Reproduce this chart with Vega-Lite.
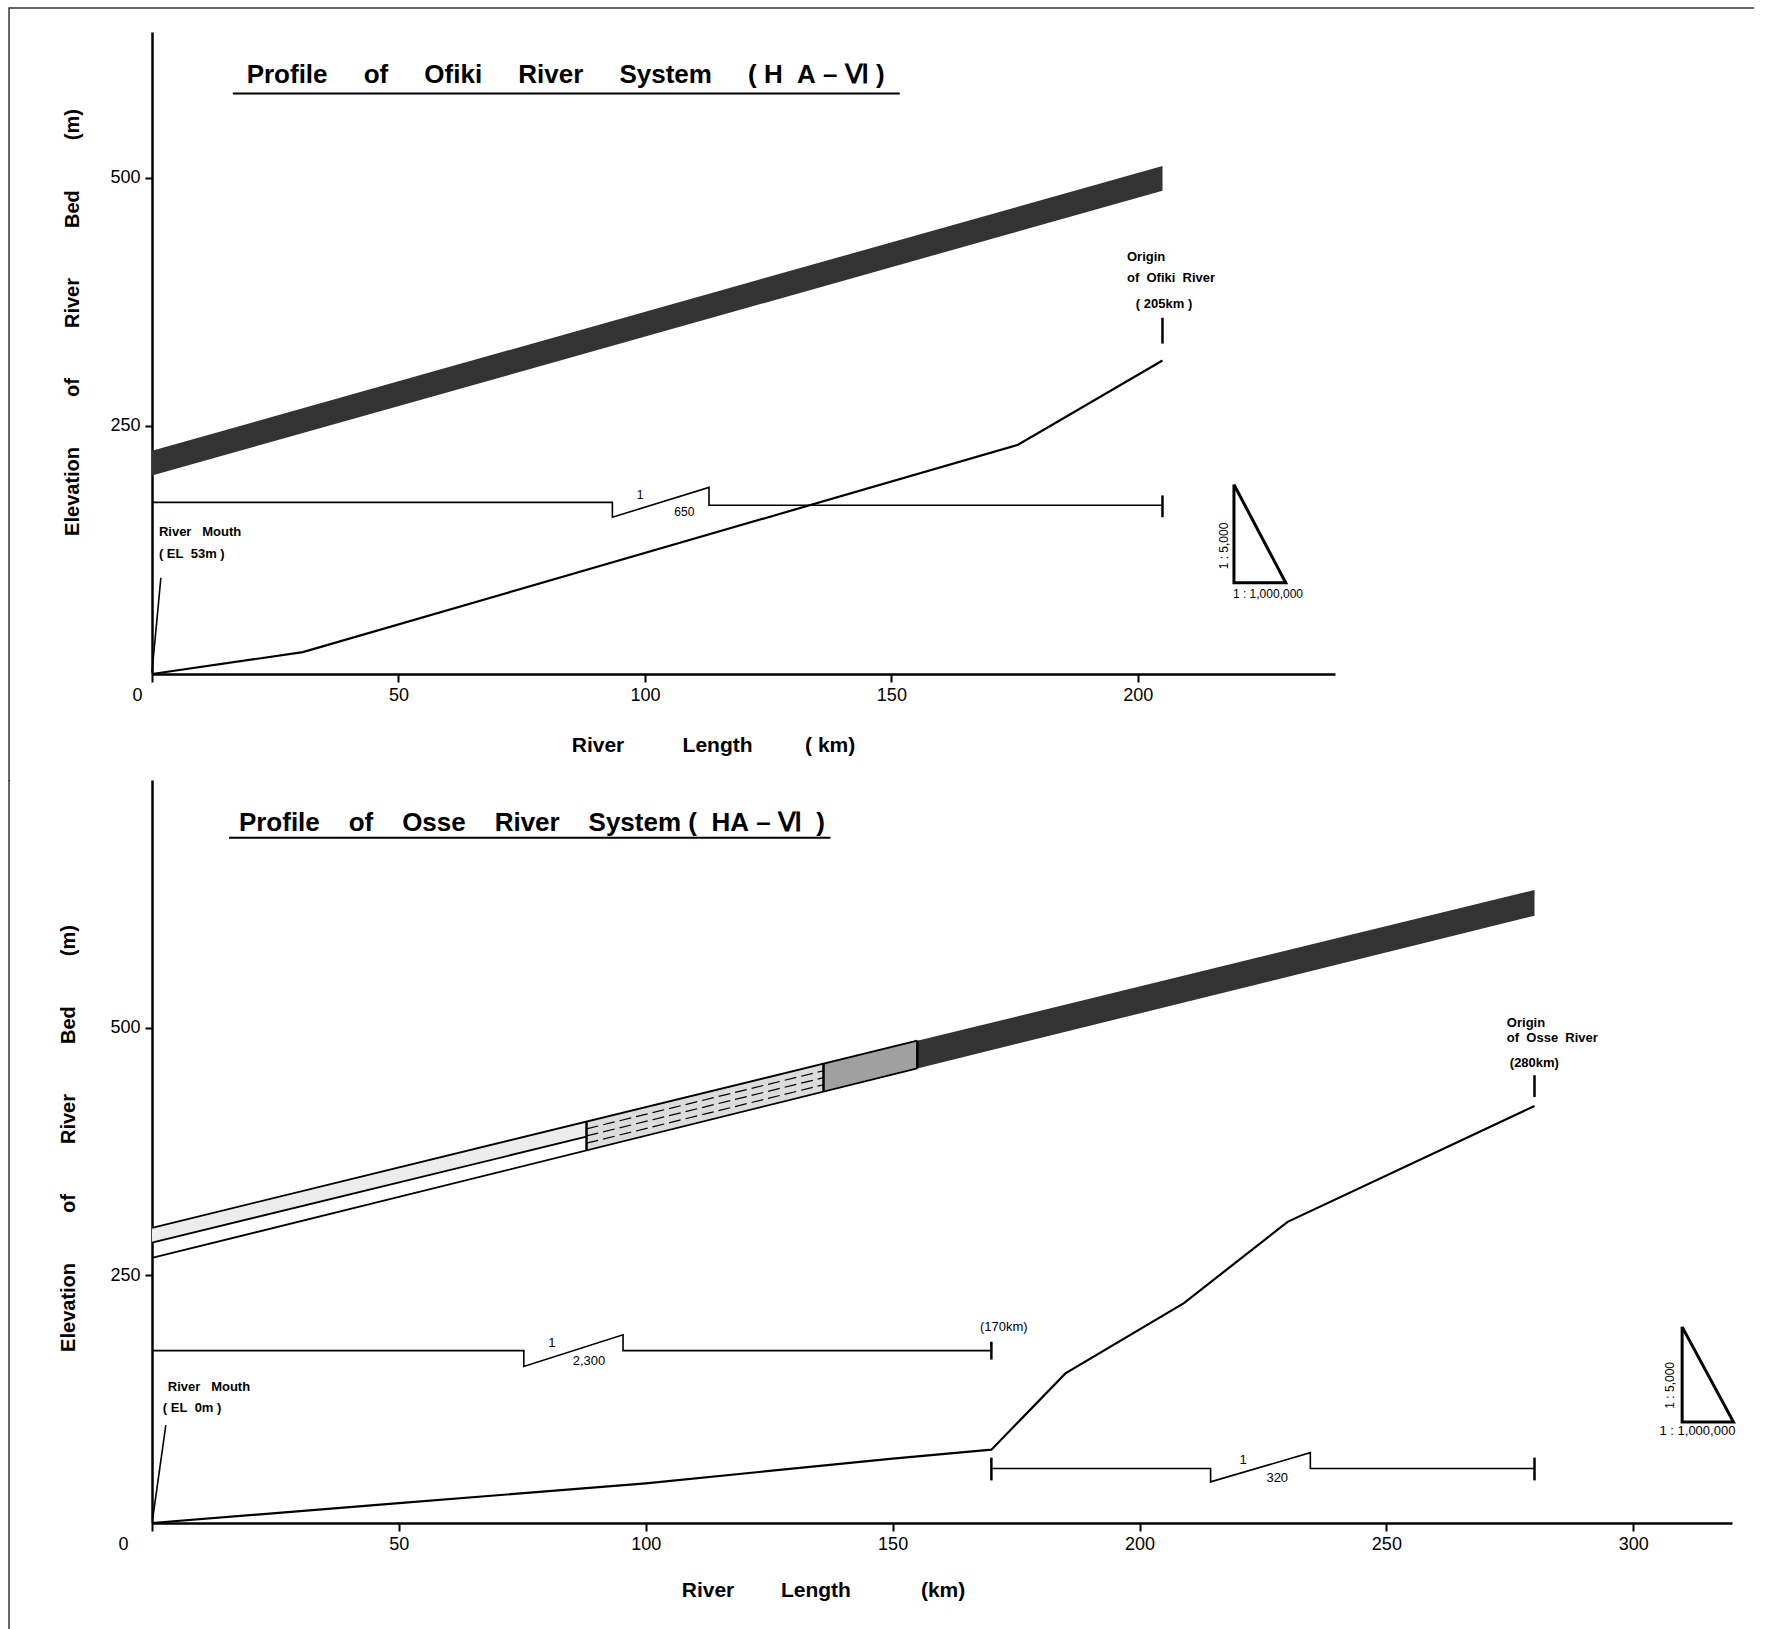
{
"$schema":"https://vega.github.io/schema/vega-lite/v6.json",
"background":"white",
"padding":{"left":6,"top":4,"right":5,"bottom":0},
"spacing":-8,
"columns":1,
"align":"none",
"config":{
 "font":"Liberation Sans",
 "view":{"stroke":null},
 "axis":{"grid":false,"domainColor":"#000","domainWidth":2.5,"tickColor":"#000","tickWidth":2,"labelColor":"#000","labelFontSize":18,"titleColor":"#000","titleFontSize":21,"titleFontWeight":"bold","labelFlush":false,"labelOverlap":false},
 "line":{"color":"#000"},
 "rule":{"color":"#000"},
 "text":{"color":"#000"}
},
"concat":[
 {
  "width":1183,"height":642,
  "encoding":{
   "x":{"field":"km","type":"quantitative","scale":{"domain":[0,240],"nice":false,"zero":false},
        "axis":{"values":[0,50,100,150,200],"tickSize":8,"labelPadding":4,
          "labelOffset":{"condition":{"test":"datum.value == 0","value":-15},"value":0},
          "title":"River\u00a0\u00a0\u00a0\u00a0\u00a0\u00a0\u00a0\u00a0\u00a0\u00a0Length\u00a0\u00a0\u00a0\u00a0\u00a0\u00a0\u00a0\u00a0\u00a0(\u00a0km)","titlePadding":30,"titleX":561}},
   "y":{"field":"m","type":"quantitative","scale":{"domain":[0,647],"nice":false,"zero":false},
        "axis":{"values":[250,500],"tickSize":7,"labelPadding":5,
          "title":"Elevation\u00a0\u00a0\u00a0\u00a0\u00a0\u00a0\u00a0\u00a0\u00a0of\u00a0\u00a0\u00a0\u00a0\u00a0\u00a0\u00a0\u00a0\u00a0River\u00a0\u00a0\u00a0\u00a0\u00a0\u00a0\u00a0\u00a0\u00a0Bed\u00a0\u00a0\u00a0\u00a0\u00a0\u00a0\u00a0\u00a0\u00a0(m)",
          "titleFontSize":20,"titleX":-80,"titleY":290,"titleBaseline":"middle"}}
  },
  "layer":[
   {"data":{"values":[{"i":0,"km":-29.0,"m":-108},{"i":1,"km":-29.0,"m":671.2},{"i":2,"km":325,"m":671.2}]},
    "mark":{"type":"line","strokeWidth":1.5,"color":"#333"},
    "encoding":{"order":{"field":"i","type":"quantitative"}}},
   {"data":{"values":[{"km":0,"m":225,"m2":200},{"km":205,"m":512,"m2":487}]},
    "mark":{"type":"area","color":"#333333"},
    "encoding":{"y2":{"field":"m2"}}},
   {"data":{"values":[{"km":0,"m":0},{"km":30.6,"m":22},{"km":175.7,"m":231},{"km":205,"m":316}]},
    "mark":{"type":"line","strokeWidth":2.2},
    "encoding":{}},
   {"data":{"values":[
     {"g":"mouth","i":0,"km":0,"m":2},{"g":"mouth","i":1,"km":1.8,"m":97},
     {"g":"scale","i":0,"km":0,"m":173},{"g":"scale","i":1,"km":93.4,"m":173},{"g":"scale","i":2,"km":93.4,"m":158},
     {"g":"scale","i":3,"km":113,"m":188},{"g":"scale","i":4,"km":113,"m":170},{"g":"scale","i":5,"km":205,"m":170}]},
    "mark":{"type":"line","strokeWidth":1.6},
    "encoding":{"detail":{"field":"g"},"order":{"field":"i","type":"quantitative"}}},
   {"data":{"values":[{"i":0,"km":219.5,"m":191},{"i":1,"km":219.5,"m":92},{"i":2,"km":230,"m":92},{"i":3,"km":219.5,"m":191}]},
    "mark":{"type":"line","strokeWidth":3},
    "encoding":{"order":{"field":"i","type":"quantitative"}}},
   {"data":{"values":[{"km":205,"m":158,"m2":180},{"km":205,"m":333,"m2":359}]},
    "mark":{"type":"rule","strokeWidth":2.5},
    "encoding":{"y2":{"field":"m2"}}},
   {"data":{"values":[{"km":16.4,"km2":151.7,"m":585}]},
    "mark":{"type":"rule","strokeWidth":2},
    "encoding":{"x2":{"field":"km2"}}},
   {"data":{"values":[{"km":19.2,"m":603.5,"t":"Profile\u00a0\u00a0\u00a0\u00a0\u00a0of\u00a0\u00a0\u00a0\u00a0\u00a0Ofiki\u00a0\u00a0\u00a0\u00a0\u00a0River\u00a0\u00a0\u00a0\u00a0\u00a0System\u00a0\u00a0\u00a0\u00a0\u00a0(\u00a0H\u00a0\u00a0A\u00a0\u2013\u00a0\u2165\u00a0)"}]},
    "mark":{"type":"text","align":"left","baseline":"middle","fontSize":26,"fontWeight":"bold"},
    "encoding":{"text":{"field":"t"}}},
   {"data":{"values":[
     {"km":197.8,"m":420,"t":"Origin"},
     {"km":197.8,"m":399.5,"t":"of\u00a0\u00a0Ofiki\u00a0\u00a0River"},
     {"km":199.6,"m":373,"t":"(\u00a0205km\u00a0)"},
     {"km":1.4,"m":143,"t":"River\u00a0\u00a0\u00a0Mouth"},
     {"km":1.4,"m":121,"t":"(\u00a0EL\u00a0\u00a053m\u00a0)"}]},
    "mark":{"type":"text","align":"left","baseline":"middle","fontSize":13,"fontWeight":"bold"},
    "encoding":{"text":{"field":"t"}}},
   {"data":{"values":[
     {"km":99,"m":180,"t":"1"},
     {"km":108,"m":163.6,"t":"650"},
     {"km":226.4,"m":81,"t":"1 : 1,000,000"}]},
    "mark":{"type":"text","align":"center","baseline":"middle","fontSize":12},
    "encoding":{"text":{"field":"t"}}},
   {"data":{"values":[{"km":217.4,"m":129,"t":"1 : 5,000"}]},
    "mark":{"type":"text","align":"center","baseline":"middle","fontSize":12,"angle":270},
    "encoding":{"text":{"field":"t"}}}
  ]
 },
 {
  "width":1580,"height":743,
  "encoding":{
   "x":{"field":"km","type":"quantitative","scale":{"domain":[0,320],"nice":false,"zero":false},
        "axis":{"values":[0,50,100,150,200,250,300],"tickSize":8,"labelPadding":4,
          "labelOffset":{"condition":{"test":"datum.value == 0","value":-29},"value":0},
          "title":"River\u00a0\u00a0\u00a0\u00a0\u00a0\u00a0\u00a0\u00a0Length\u00a0\u00a0\u00a0\u00a0\u00a0\u00a0\u00a0\u00a0\u00a0\u00a0\u00a0\u00a0(km)","titlePadding":26,"titleX":671}},
   "y":{"field":"m","type":"quantitative","scale":{"domain":[0,750],"nice":false,"zero":false},
        "axis":{"values":[250,500],"tickSize":7,"labelPadding":5,
          "title":"Elevation\u00a0\u00a0\u00a0\u00a0\u00a0\u00a0\u00a0\u00a0\u00a0of\u00a0\u00a0\u00a0\u00a0\u00a0\u00a0\u00a0\u00a0\u00a0River\u00a0\u00a0\u00a0\u00a0\u00a0\u00a0\u00a0\u00a0\u00a0Bed\u00a0\u00a0\u00a0\u00a0\u00a0\u00a0\u00a0\u00a0\u00a0(m)",
          "titleFontSize":20,"titleX":-84,"titleY":358,"titleBaseline":"middle"}}
  },
  "layer":[
   {"data":{"values":[{"i":0,"km":-28.96,"m":750},{"i":1,"km":-28.96,"m":-110}]},
    "mark":{"type":"line","strokeWidth":1.5,"color":"#333"},
    "encoding":{"order":{"field":"i","type":"quantitative"}}},
   {"data":{"values":[
     {"s":"A","km":0,"m":298,"m2":283},{"s":"A","km":88,"m":405.2,"m2":390},
     {"s":"B","km":88,"m":405.2,"m2":376.1},{"s":"B","km":136,"m":463.6,"m2":435.3},
     {"s":"C","km":136,"m":463.6,"m2":435.3},{"s":"C","km":155,"m":486.8,"m2":458.8},
     {"s":"D","km":155,"m":486.8,"m2":458.8},{"s":"D","km":280,"m":639,"m2":613}]},
    "mark":{"type":"area"},
    "encoding":{"y2":{"field":"m2"},
      "color":{"field":"s","type":"nominal","scale":{"domain":["A","B","C","D"],"range":["#ececec","#dcdcdc","#a0a0a0","#333333"]},"legend":null}}},
   {"data":{"values":[
     {"g":"h1","km":88,"m":383.4},{"g":"h1","km":136,"m":442.4},
     {"g":"h2","km":88,"m":390.7},{"g":"h2","km":136,"m":449.5},
     {"g":"h3","km":88,"m":397.9},{"g":"h3","km":136,"m":456.5}]},
    "mark":{"type":"line","strokeWidth":1.2,"strokeDash":[12,5]},
    "encoding":{"detail":{"field":"g"}}},
   {"data":{"values":[
     {"g":"top","km":0,"m":298},{"g":"top","km":155,"m":486.8},
     {"g":"bot","km":0,"m":267.5},{"g":"bot","km":155,"m":458.8},
     {"g":"mid","km":0,"m":283},{"g":"mid","km":88,"m":390}]},
    "mark":{"type":"line","strokeWidth":1.8},
    "encoding":{"detail":{"field":"g"}}},
   {"data":{"values":[{"km":88,"m":376.1,"m2":405.2},{"km":136,"m":435.3,"m2":463.6},{"km":155,"m":458.8,"m2":486.8}]},
    "mark":{"type":"rule","strokeWidth":2.5},
    "encoding":{"y2":{"field":"m2"}}},
   {"data":{"values":[{"km":0,"m":0},{"km":50,"m":20},{"km":100,"m":40},{"km":150,"m":65},{"km":170,"m":74},{"km":185,"m":151},{"km":209,"m":222},{"km":230,"m":304},{"km":280,"m":421}]},
    "mark":{"type":"line","strokeWidth":2.2},
    "encoding":{}},
   {"data":{"values":[
     {"g":"mouth","i":0,"km":0.1,"m":2.8},{"g":"mouth","i":1,"km":2.8,"m":98.8},
     {"g":"s1","i":0,"km":0,"m":174},{"g":"s1","i":1,"km":75.3,"m":174},{"g":"s1","i":2,"km":75.3,"m":158},
     {"g":"s1","i":3,"km":95.4,"m":190},{"g":"s1","i":4,"km":95.4,"m":174},{"g":"s1","i":5,"km":170,"m":174},
     {"g":"s2","i":0,"km":170,"m":55},{"g":"s2","i":1,"km":214.4,"m":55},{"g":"s2","i":2,"km":214.4,"m":41.5},
     {"g":"s2","i":3,"km":234.6,"m":71},{"g":"s2","i":4,"km":234.6,"m":55},{"g":"s2","i":5,"km":280,"m":55}]},
    "mark":{"type":"line","strokeWidth":1.6},
    "encoding":{"detail":{"field":"g"},"order":{"field":"i","type":"quantitative"}}},
   {"data":{"values":[{"i":0,"km":309.9,"m":198},{"i":1,"km":309.9,"m":102},{"i":2,"km":320.3,"m":102},{"i":3,"km":309.9,"m":198}]},
    "mark":{"type":"line","strokeWidth":3},
    "encoding":{"order":{"field":"i","type":"quantitative"}}},
   {"data":{"values":[{"km":170,"m":165,"m2":183},{"km":170,"m":43,"m2":66},{"km":280,"m":43,"m2":66},{"km":280,"m":430,"m2":452}]},
    "mark":{"type":"rule","strokeWidth":2.5},
    "encoding":{"y2":{"field":"m2"}}},
   {"data":{"values":[{"km":15.6,"km2":137.4,"m":691.7}]},
    "mark":{"type":"rule","strokeWidth":2},
    "encoding":{"x2":{"field":"km2"}}},
   {"data":{"values":[{"km":17.6,"m":707,"t":"Profile\u00a0\u00a0\u00a0\u00a0of\u00a0\u00a0\u00a0\u00a0Osse\u00a0\u00a0\u00a0\u00a0River\u00a0\u00a0\u00a0\u00a0System\u00a0(\u00a0\u00a0HA\u00a0\u2013\u00a0\u2165\u00a0\u00a0)"}]},
    "mark":{"type":"text","align":"left","baseline":"middle","fontSize":26,"fontWeight":"bold"},
    "encoding":{"text":{"field":"t"}}},
   {"data":{"values":[
     {"km":274.4,"m":504.5,"t":"Origin"},
     {"km":274.4,"m":489.4,"t":"of\u00a0\u00a0Osse\u00a0\u00a0River"},
     {"km":275,"m":464,"t":"(280km)"},
     {"km":3.2,"m":137.5,"t":"River\u00a0\u00a0\u00a0Mouth"},
     {"km":2.2,"m":115.6,"t":"(\u00a0EL\u00a0\u00a00m\u00a0)"}]},
    "mark":{"type":"text","align":"left","baseline":"middle","fontSize":13,"fontWeight":"bold"},
    "encoding":{"text":{"field":"t"}}},
   {"data":{"values":[
     {"km":81,"m":182,"t":"1"},
     {"km":88.5,"m":164,"t":"2,300"},
     {"km":172.5,"m":198,"t":"(170km)"},
     {"km":221,"m":63.4,"t":"1"},
     {"km":227.9,"m":45,"t":"320"},
     {"km":313,"m":92.7,"t":"1 : 1,000,000"}]},
    "mark":{"type":"text","align":"center","baseline":"middle","fontSize":13},
    "encoding":{"text":{"field":"t"}}},
   {"data":{"values":[{"km":307.5,"m":139,"t":"1 : 5,000"}]},
    "mark":{"type":"text","align":"center","baseline":"middle","fontSize":12,"angle":270},
    "encoding":{"text":{"field":"t"}}}
  ]
 }
]
}
